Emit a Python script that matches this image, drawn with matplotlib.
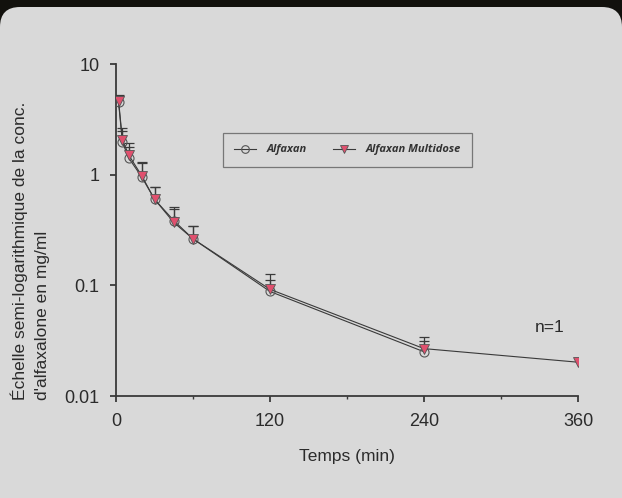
import matplotlib.pyplot as plt
import numpy as np
from matplotlib.patches import FancyBboxPatch
from matplotlib.transforms import IdentityTransform

# temps en minutes
temps_a = [2, 5, 10, 20, 30, 45, 60, 120, 240]
temps_m = [2, 5, 10, 20, 30, 45, 60, 120, 240, 360]

# concentrations (mg/ml)
conc_a = [4.5, 1.96, 1.41, 0.955, 0.60, 0.385, 0.263, 0.088, 0.0251]
conc_m = [4.66, 2.06, 1.50, 0.98, 0.60, 0.37, 0.263, 0.092, 0.0268, 0.0202]

# écart-type (barre vers le haut seulement)
err_a = [0.6, 0.52, 0.37, 0.33, 0.17, 0.105, 0.082, 0.024, 0.006]
err_m = [0.64, 0.6, 0.42, 0.32, 0.18, 0.14, 0.084, 0.035, 0.007, 0.0]

xticks = [0, 120, 240, 360]
yticks = [0.01, 0.1, 1, 10]
ytick_labels = ['0.01', '0.1', '1', '10']

GRIS = '#3a3a3a'
ROSE = '#e0506e'
FOND = '#d9d9d9'

plt.rcParams['font.family'] = ['Liberation Sans', 'DejaVu Sans']

fig = plt.figure(figsize=(6.22, 4.98), dpi=100, facecolor='#12110d')
panneau = FancyBboxPatch((0, -30), 622, 521, boxstyle='round,pad=0,rounding_size=20',
                         transform=IdentityTransform(), facecolor=FOND, edgecolor='none',
                         zorder=-5)
fig.add_artist(panneau)

ax = fig.add_axes([116 / 622, 102 / 498, 462 / 622, 332 / 498])
ax.set_facecolor('none')

# barres d'erreur : seulement la moitié haute avec un trait en haut
for t, c, e in [(temps_a, conc_a, err_a), (temps_m, conc_m, err_m)]:
    t = np.array(t)
    haut = np.array(c) + np.array(e)
    ok = np.array(e) > 0
    ax.vlines(t[ok], np.array(c)[ok], haut[ok], color=GRIS, lw=0.9, zorder=2)
    ax.plot(t[ok], haut[ok], '_', color=GRIS, ms=7.5, mew=0.9, zorder=2)

ax.plot(temps_a, conc_a, '-o', color=GRIS, lw=0.8, ms=6.5, mfc='none', mec='#555555',
        mew=0.8, label='Alfaxan', zorder=3)
ax.plot(temps_m, conc_m, '-v', color=GRIS, lw=0.8, ms=6.5, mfc=ROSE, mec='#555555',
        mew=0.6, label='Alfaxan Multidose', zorder=4)

ax.set_yscale('log')
ax.set_xlim(0, 360)
ax.set_ylim(0.01, 10)
ax.set_xticks(xticks)
ax.set_xticks([60, 180, 300], minor=True)
ax.set_yticks(yticks)
ax.set_yticklabels(ytick_labels)
ax.yaxis.set_minor_locator(plt.NullLocator())

for s in ['top', 'right']:
    ax.spines[s].set_visible(False)
for s in ['left', 'bottom']:
    ax.spines[s].set_color(GRIS)
    ax.spines[s].set_linewidth(1.3)

ax.tick_params(which='major', direction='out', length=4, width=1.3, color=GRIS,
               labelsize=13, labelcolor='#2b2b2b', pad=8)
ax.tick_params(which='minor', direction='out', length=2.5, width=1.0, color=GRIS)

ax.set_xlabel('Temps (min)', fontsize=12.5, color='#2b2b2b', labelpad=14)
fig.text(30 / 622, 1 - 400 / 498, "Échelle semi-logarithmique de la conc.\nd'alfaxalone en mg/ml",
         rotation=90, ha='center', va='bottom', multialignment='left',
         fontsize=12.5, color='#2b2b2b', linespacing=1.55)

ax.text(326, 0.042, 'n=1', fontsize=12.5, color='#2b2b2b', ha='left', va='center')

leg = ax.legend(loc='center', bbox_to_anchor=(0.501, 0.741), ncol=2, frameon=True,
                fancybox=False, edgecolor='#777777', facecolor=FOND, framealpha=1,
                handlelength=2.0, handletextpad=0.9, columnspacing=2.4, borderpad=1.0,
                markerscale=0.85, labelcolor='#333333',
                prop={'family': 'Open Sans', 'weight': 'bold', 'style': 'italic', 'size': 8})
leg.get_frame().set_linewidth(0.9)

fig.savefig('out.png', dpi=100, facecolor=fig.get_facecolor())
